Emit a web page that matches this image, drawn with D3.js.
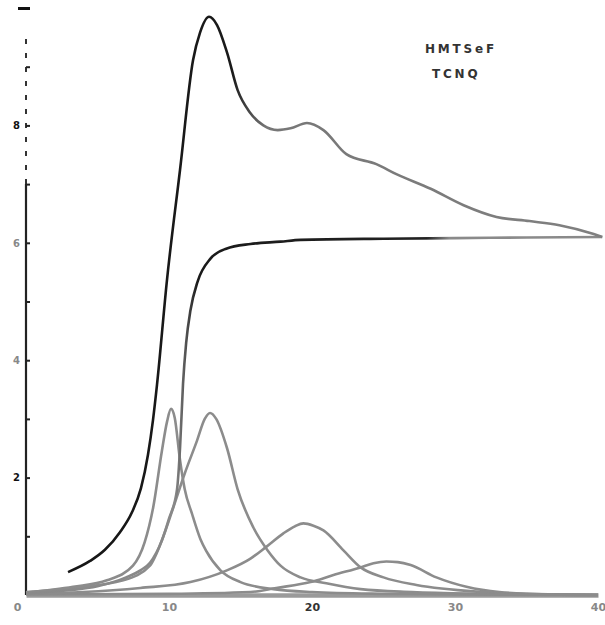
<!DOCTYPE html>
<html>
<head>
<meta charset="utf-8">
<script src="https://cdn.jsdelivr.net/npm/d3@7"></script>
<style>
  html, body { margin: 0; padding: 0; background: #fff; }
  svg { display: block; }
</style>
</head>
<body>
<svg id="chart" width="605" height="625"></svg>
<script>
// ---- data ----
const xTicks = [0, 10, 20, 30, 40];
const yTicksMajor = [2, 4, 6, 8];
const yTicksMinor = [1, 2, 3, 4, 5, 6, 7, 8, 9];
const labelLines = ["HMTSeF", "TCNQ"];

// total spectrum
const totalCurve = [
  [2.94,0.39],[4.48,0.58],[5.52,0.77],[6.57,1.07],[7.41,1.41],[8.04,1.82],[8.53,2.39],[8.88,2.98],
  [9.16,3.58],[9.86,5.37],[10.77,7.24],[11.68,9.11],[12.17,9.58],[12.8,9.85],[13.36,9.71],
  [14.06,9.24],[14.8,8.6],[15.66,8.22],[16.6,8.0],[17.6,7.92],[18.5,7.95],[19.65,8.04],
  [20.8,7.92],[22.4,7.51],[24.5,7.34],[25.9,7.17],[28.3,6.92],[30.6,6.64],[32.9,6.44],
  [35.2,6.37],[37.3,6.3],[39.7,6.15],[40.3,6.1]
];
// step-like background
const stepCurve = [
  [0,0.03],[3,0.08],[5,0.15],[7,0.3],[8,0.42],[8.67,0.55],[9.5,0.93],[10.0,1.3],[10.56,1.8],
  [10.77,2.5],[10.98,3.6],[11.2,4.3],[11.5,4.85],[12.0,5.34],[12.9,5.73],[14.0,5.9],
  [15.7,5.98],[17.8,6.02],[19.2,6.05],[25,6.07],[30,6.08],[35,6.09],[40.3,6.1]
];
const peak1 = [
  [0,0.04],[3.3,0.14],[5.66,0.25],[7.48,0.5],[8.3,0.9],[8.9,1.5],[9.5,2.45],[9.86,2.95],
  [10.14,3.17],[10.4,3.02],[10.77,2.3],[11.1,1.8],[11.6,1.39],[12.2,0.95],[12.6,0.75],
  [13.6,0.42],[15,0.22],[17.3,0.1],[20,0.05],[25,0.02],[30,0.01],[40,0]
];
const peak2 = [
  [0,0.05],[3.3,0.12],[6.8,0.25],[8.67,0.5],[9.58,0.98],[10.3,1.49],[11.1,2.07],[11.96,2.63],
  [12.5,3.0],[12.87,3.1],[13.3,3.0],[14.06,2.5],[14.8,1.8],[15.9,1.15],[16.9,0.76],[17.8,0.5],
  [19.2,0.3],[21,0.2],[23.4,0.1],[27,0.05],[32,0.02],[40,0]
];
const peak3 = [
  [0,0.02],[4,0.05],[8,0.12],[11.5,0.22],[14.05,0.42],[15.7,0.62],[16.8,0.82],[18,1.05],
  [18.8,1.17],[19.4,1.22],[20.1,1.18],[20.8,1.1],[22.2,0.76],[23.4,0.47],[25,0.3],
  [27.3,0.17],[32,0.05],[36.6,0.01],[40,0]
];
const peak4 = [
  [0,0.01],[10,0.02],[15.7,0.05],[17.5,0.12],[19.9,0.22],[21.5,0.34],[23.4,0.47],[24.3,0.54],
  [25.2,0.57],[26,0.56],[26.9,0.51],[28.7,0.3],[30.8,0.14],[33.1,0.05],[36.6,0.01],[40,0]
];

// ---- drawing ----
const svg = d3.select("#chart");
const x = d3.scaleLinear().domain([0, 40]).range([26, 598]);
const y = d3.scaleLinear().domain([0, 10]).range([595, 8]);

const line = d3.line()
  .x(d => x(d[0])).y(d => y(d[1]))
  .curve(d3.curveMonotoneX);

// gradients to mimic the black/grey ink of the scan
const defs = svg.append("defs");
function grad(id, stops) {
  const g = defs.append("linearGradient").attr("id", id)
    .attr("gradientUnits", "userSpaceOnUse")
    .attr("x1", x(0)).attr("x2", x(40)).attr("y1", 0).attr("y2", 0);
  stops.forEach(s => g.append("stop").attr("offset", s[0]).attr("stop-color", s[1]));
}
grad("gTotal", [[0, "#151515"], [0.36, "#1a1a1a"], [0.42, "#777"], [1, "#808080"]]);
grad("gStep", [[0, "#8a8a8a"], [0.26, "#888"], [0.3, "#1a1a1a"], [0.7, "#222"], [0.74, "#8a8a8a"], [1, "#8a8a8a"]]);

// x axis (thick grey baseline)
const xAxis = d3.axisBottom(x).tickValues(xTicks).tickSize(0).tickPadding(8)
  .tickFormat(d3.format("d"));
const gx = svg.append("g").attr("transform", `translate(0,${y(0)})`).call(xAxis);
gx.select(".domain").attr("stroke", "#9a9a9a").attr("stroke-width", 4.5);
gx.selectAll("text")
  .attr("font-family", "DejaVu Sans, sans-serif").attr("font-weight", "bold")
  .attr("font-size", 11).attr("fill", (d) => d === 20 ? "#333" : "#888")
  .attr("dx", d => d === 0 ? -9 : 0);

// y axis line: solid in lower part, broken in upper part
svg.append("line")
  .attr("x1", x(0)).attr("x2", x(0)).attr("y1", y(0)).attr("y2", y(7))
  .attr("stroke", "#222").attr("stroke-width", 2.2);
svg.append("line")
  .attr("x1", x(0)).attr("x2", x(0)).attr("y1", y(7)).attr("y2", y(9.6))
  .attr("stroke", "#333").attr("stroke-width", 2)
  .attr("stroke-dasharray", "5,9");

const yMinor = d3.axisLeft(y).tickValues(yTicksMinor).tickSize(-4).tickFormat("");
const gyMin = svg.append("g").attr("transform", `translate(${x(0)},0)`).call(yMinor);
gyMin.select(".domain").remove();
gyMin.selectAll("line").attr("stroke", "#222").attr("stroke-width", 2);

const yMajor = d3.axisLeft(y).tickValues(yTicksMajor).tickSize(0).tickPadding(6)
  .tickFormat(d3.format("d"));
const gy = svg.append("g").attr("transform", `translate(${x(0)},0)`).call(yMajor);
gy.select(".domain").remove();
gy.selectAll("text")
  .attr("font-family", "DejaVu Sans, sans-serif").attr("font-weight", "bold")
  .attr("font-size", 10).attr("fill", d => (d === 2 || d === 8) ? "#111" : "#888");

// top tick at 10
const yTop = d3.axisLeft(y).tickValues([10]).tickSize(12).tickFormat("");
const gyTop = svg.append("g").attr("transform", `translate(${x(0) + 4},0)`).call(yTop);
gyTop.select(".domain").remove();
gyTop.selectAll("line").attr("stroke", "#111").attr("stroke-width", 3);

// peaks
[peak4, peak3, peak2, peak1].forEach(p => {
  svg.append("path").datum(p).attr("d", line)
    .attr("fill", "none").attr("stroke", "#8c8c8c").attr("stroke-width", 2.6);
});
svg.append("path").datum(stepCurve).attr("d", line)
  .attr("fill", "none").attr("stroke", "url(#gStep)").attr("stroke-width", 2.6);
svg.append("path").datum(totalCurve).attr("d", line)
  .attr("fill", "none").attr("stroke", "url(#gTotal)").attr("stroke-width", 2.6);

// label
const lbl = svg.append("text")
  .attr("font-family", "DejaVu Sans, sans-serif").attr("font-weight", "bold")
  .attr("font-size", 12).attr("fill", "#333").attr("letter-spacing", 2.8);
lbl.selectAll("tspan").data(labelLines).join("tspan")
  .attr("x", (d, i) => i === 0 ? 425 : 432)
  .attr("y", (d, i) => i === 0 ? 53 : 78)
  .text(d => d);
</script>
</body>
</html>
